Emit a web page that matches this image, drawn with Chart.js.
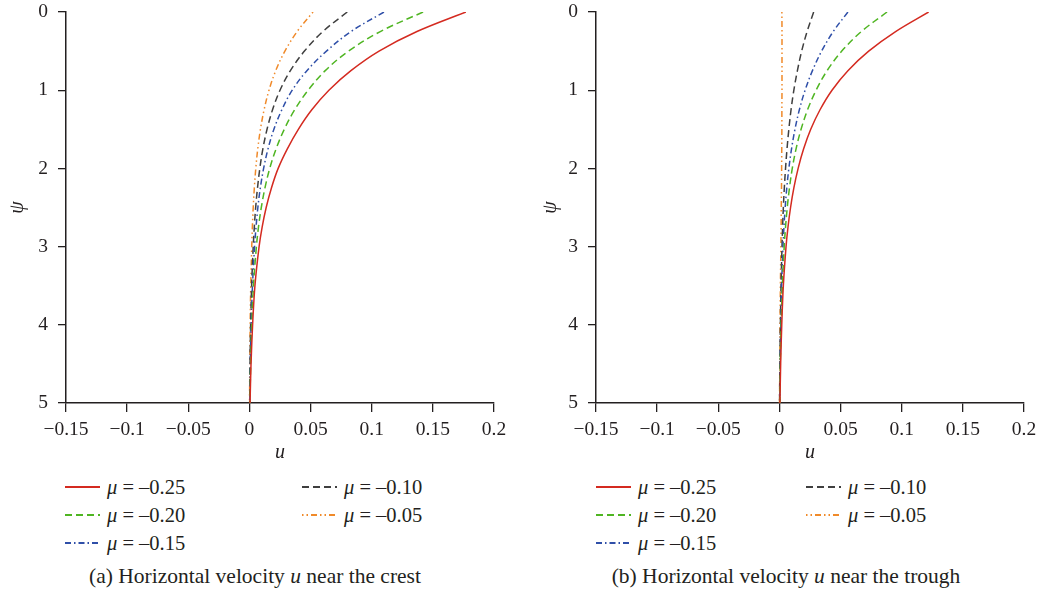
<!DOCTYPE html>
<html>
<head>
<meta charset="utf-8">
<script src="https://cdn.jsdelivr.net/npm/chart.js@4.4.1/dist/chart.umd.min.js"></script>
<style>
  body { margin: 0; background: #fff; width: 1041px; height: 597px; position: relative; overflow: hidden;
         font-family: "Liberation Serif", serif; color: #231f20; }
  .box { position: absolute; top: 0; height: 470px; }
  .item { position: absolute; height: 24px; display: flex; align-items: center; font-size: 20.5px; white-space: nowrap; }
  .item svg { margin-right: 7px; }
  .cap { position: absolute; top: 564px; font-size: 21.5px; white-space: nowrap; transform: translateX(-50%); }
</style>
</head>
<body>
<div class="box" style="left:0;width:520px"><canvas id="crest"></canvas></div>
<div class="box" style="left:520px;width:521px"><canvas id="trough"></canvas></div>
<div id="legendA"></div>
<div id="legendB"></div>
<div class="cap" style="left:255px">(a) Horizontal velocity <i>u</i> near the crest</div>
<div class="cap" style="left:786px">(b) Horizontal velocity <i>u</i> near the trough</div>
<script>
const psi = [0, 0.25, 0.5, 0.75, 1, 1.25, 1.5, 1.75, 2, 2.25, 2.5, 2.75, 3, 3.5, 4, 4.5, 5];
const labels = ['μ = –0.25', 'μ = –0.20', 'μ = –0.15', 'μ = –0.10', 'μ = –0.05'];

// (a) near the crest
const crest25 = [0.177, 0.137, 0.106, 0.083, 0.065, 0.051, 0.040, 0.031, 0.0235, 0.018, 0.0137, 0.0104, 0.0079, 0.0045, 0.0026, 0.0013, 0.0005];
const crest20 = [0.142, 0.107, 0.081, 0.062, 0.048, 0.037, 0.0285, 0.0218, 0.0166, 0.0127, 0.0097, 0.0074, 0.0057, 0.0033, 0.0019, 0.001, 0.0004];
const crest15 = [0.110, 0.083, 0.063, 0.047, 0.035, 0.0265, 0.020, 0.0152, 0.0116, 0.0089, 0.0069, 0.0054, 0.0042, 0.0025, 0.0014, 0.0007, 0.0003];
const crest10 = [0.080, 0.060, 0.045, 0.0335, 0.025, 0.0189, 0.0144, 0.011, 0.0085, 0.0066, 0.0051, 0.004, 0.0031, 0.0018, 0.001, 0.0005, 0.0002];
const crest05 = [0.052, 0.039, 0.029, 0.0215, 0.016, 0.012, 0.009, 0.0068, 0.0052, 0.004, 0.0031, 0.0024, 0.0019, 0.0011, 0.0006, 0.0003, 0.0001];

// (b) near the trough
const trough25 = [0.122, 0.095, 0.073, 0.056, 0.043, 0.0332, 0.0256, 0.0198, 0.0153, 0.0118, 0.0091, 0.007, 0.0054, 0.0032, 0.0019, 0.001, 0.0004];
const trough20 = [0.088, 0.067, 0.051, 0.039, 0.030, 0.023, 0.0177, 0.0136, 0.0105, 0.0082, 0.0064, 0.005, 0.0039, 0.0024, 0.0014, 0.0007, 0.0003];
const trough15 = [0.056, 0.044, 0.0345, 0.027, 0.021, 0.0163, 0.0127, 0.0099, 0.0077, 0.006, 0.0047, 0.0037, 0.0029, 0.0018, 0.0011, 0.0006, 0.0002];
const trough10 = [0.028, 0.0226, 0.0182, 0.0147, 0.0118, 0.0095, 0.0077, 0.0062, 0.005, 0.004, 0.0032, 0.0026, 0.0021, 0.0013, 0.0008, 0.0004, 0.0001];
const trough05 = [0.0020, 0.0021, 0.0021, 0.0021, 0.0021, 0.0020, 0.0020, 0.0019, 0.0018, 0.0017, 0.0015, 0.0014, 0.0012, 0.0008, 0.0005, 0.0003, 0.0001];

const xTicks = [-0.15, -0.1, -0.05, 0, 0.05, 0.1, 0.15, 0.2];

const styles = [
  { color: '#d42a20', dash: [] },
  { color: '#4fb522', dash: [7, 4] },
  { color: '#2f4fa8', dash: [6, 3, 1.5, 3] },
  { color: '#3f3f3f', dash: [7, 4] },
  { color: '#f08a2a', dash: [1.5, 3, 1.5, 3, 6, 3] }
];

const ink = '#231f20';
const FONT = "'Liberation Serif', serif";
Chart.defaults.font.family = FONT;
Chart.defaults.color = ink;

function makeSets(series) {
  return series.map((vals, i) => ({
    label: labels[i],
    data: vals.map((u, k) => ({ x: u, y: psi[k] })),
    showLine: true,
    borderColor: styles[i].color,
    backgroundColor: styles[i].color,
    borderDash: styles[i].dash,
    borderWidth: 1.5,
    pointRadius: 0,
    tension: 0.35
  }));
}

// legend drawn as html so it can sit in two columns
function htmlLegend(targetId, cols, rows) {
  return {
    id: 'htmlLegend',
    afterUpdate(chart) {
      const box = document.getElementById(targetId);
      box.innerHTML = '';
      const items = chart.options.plugins.legend.labels.generateLabels(chart);
      items.forEach((it, i) => {
        const col = i < 3 ? 0 : 1;
        const row = i < 3 ? i : i - 3;
        const div = document.createElement('div');
        div.className = 'item';
        div.style.left = cols[col] + 'px';
        div.style.top = (rows[row] - 12) + 'px';
        const dash = (it.lineDash || []).join(' ');
        div.innerHTML = '<svg width="35" height="10"><line x1="0" y1="5" x2="35" y2="5" stroke="' + it.strokeStyle +
          '" stroke-width="2" stroke-dasharray="' + dash + '"/></svg>' +
          '<span><i>' + it.text.charAt(0) + '</i>' + it.text.slice(1) + '</span>';
        box.appendChild(div);
      });
    }
  };
}

function makeChart(id, series, yWidth, yTitlePad, padRight, legendPlugin) {
  return new Chart(document.getElementById(id), {
    type: 'scatter',
    data: { datasets: makeSets(series) },
    options: {
      responsive: true,
      maintainAspectRatio: false,
      animation: false,
      layout: { padding: { top: 12, right: padRight, left: 0, bottom: 0 } },
      plugins: { legend: { display: false }, tooltip: { enabled: false } },
      scales: {
        x: {
          type: 'linear', min: -0.15, max: 0.2,
          afterBuildTicks: s => { s.ticks = xTicks.map(v => ({ value: v })); },
          afterFit: s => { s.height = 67; s.paddingLeft = 0; s.paddingRight = 0; },
          ticks: {
            font: { size: 19.5 }, color: ink, padding: 6, maxRotation: 0, autoSkip: false,
            callback: v => {
              const r = Math.round(v * 100) / 100;
              return r === 0 ? '0' : String(r).replace('-', '\u2212');
            }
          },
          grid: { drawOnChartArea: false, drawTicks: true, tickLength: 9, color: ink, lineWidth: 1.3 },
          border: { color: ink, width: 1.5 },
          title: { display: true, text: 'u', font: { size: 20, style: 'italic' }, color: ink, padding: { top: 0, bottom: 5 } }
        },
        y: {
          type: 'linear', min: 0, max: 5, reverse: true,
          afterFit: s => { s.width = yWidth; s.paddingTop = 0; s.paddingBottom = 0; },
          ticks: { stepSize: 1, font: { size: 19.5 }, color: ink, padding: 10 },
          grid: { drawOnChartArea: false, drawTicks: true, tickLength: 8, color: ink, lineWidth: 1.3 },
          border: { color: ink, width: 1.5 },
          title: { display: true, text: 'ψ', font: { size: 20, style: 'italic' }, color: ink, padding: { top: yTitlePad, bottom: 0 } }
        }
      }
    },
    plugins: [legendPlugin]
  });
}

makeChart('crest', [crest25, crest20, crest15, crest10, crest05], 66, 6, 26,
  htmlLegend('legendA', [65, 302], [487, 515, 543]));
makeChart('trough', [trough25, trough20, trough15, trough10, trough05], 76, 19, 17,
  htmlLegend('legendB', [596, 806], [487, 515, 543]));
</script>
</body>
</html>
